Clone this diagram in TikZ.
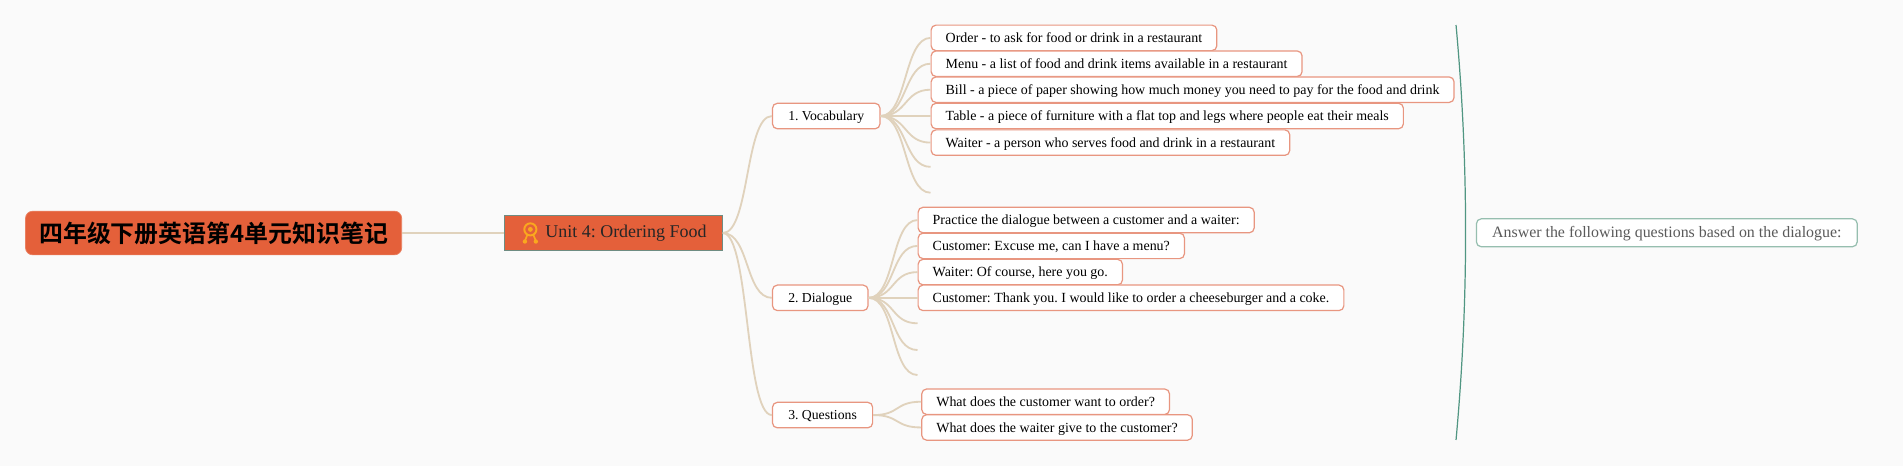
\documentclass[tikz,border=0pt]{standalone}
\usepackage{fontspec}
\setmainfont{Liberation Serif}
\newfontfamily\cjk{Noto Sans CJK SC}[BoldFont={Noto Sans CJK SC Bold}]
\frenchspacing
\definecolor{bgc}{RGB}{250,250,250}
\definecolor{rootc}{RGB}{228,96,58}
\definecolor{salmon}{RGB}{232,150,128}
\definecolor{linkc}{RGB}{224,210,188}
\definecolor{unitb}{RGB}{110,140,130}
\definecolor{gold}{RGB}{250,168,30}
\definecolor{tealb}{RGB}{150,190,175}
\definecolor{bracketc}{RGB}{80,150,130}
\definecolor{graytext}{RGB}{90,90,90}
\tikzset{
  rootbox/.style={fill=rootc, draw=rootc!80!white, line width=0.6pt, rounded corners=6pt,
    minimum width=310pt, minimum height=36pt, inner sep=0pt,
    font=\cjk\bfseries\fontsize{19.7}{22}\selectfont, text=black},
  unitbox/.style={fill=rootc, draw=unitb, line width=0.8pt, anchor=west,
    minimum height=29pt, inner xsep=13pt, inner ysep=0pt,
    font=\fontsize{14.8}{17}\selectfont, text=black!85, text height=10.5pt, text depth=3pt},
  lvltwo/.style={fill=white, draw=salmon, line width=1pt, rounded corners=4pt, anchor=west,
    minimum height=21pt, inner xsep=13pt, inner ysep=0pt,
    font=\fontsize{11.3}{13}\selectfont, text=black, text height=9pt, text depth=1.2pt},
  leafbox/.style={lvltwo, inner xsep=12pt, font=\fontsize{11.5}{13}\selectfont},
  answerbox/.style={fill=white, draw=tealb, line width=1pt, rounded corners=4pt, anchor=west,
    minimum height=23pt, inner xsep=13pt, inner ysep=0pt,
    font=\fontsize{13.1}{15}\selectfont, text=graytext, text height=9.8pt, text depth=2pt},
  link/.style={draw=linkc, line width=1.5pt},
  bracketline/.style={draw=bracketc, line width=1pt},
  icon/.style={draw=gold, line width=1.6pt, line cap=round}
}
\begin{document}
\begin{tikzpicture}[x=1pt,y=-1pt]
\fill[bgc] (0,0) rectangle (1568,384);
\useasboundingbox (0,0) rectangle (1568,384);

% root and unit
\node[rootbox] (root) at (176,192) {四年级下册英语第4单元知识笔记};
\node[unitbox] (unit) at (415,192) {\hspace*{21pt}Unit 4: Ordering Food};
\draw[link] (root.east) -- (unit.west);

% icon
\draw[icon] (437,189) circle (5pt);
\fill[gold] (437,189) circle (2pt);
\draw[icon, line width=1.4pt] (434.5,193.5) -- (432.5,198.5);
\draw[icon, line width=1.4pt] (439.5,193.5) -- (441.5,198.5);
\fill[gold] (432.5,199) circle (1.8pt);
\fill[gold] (441.5,199) circle (1.8pt);

% level two
\node[lvltwo] (voc) at (636,95.6) {1. Vocabulary};
\node[lvltwo] (dia) at (636,245.4) {2. Dialogue};
\node[lvltwo] (que) at (636,342) {3. Questions};
\foreach \n in {voc,dia,que}
  \draw[link] (unit.east) .. controls +(22,0) and +(-22,0) .. (\n.west);

% vocabulary leaves
\node[leafbox] (v1) at (766.7,31.2) {Order - to ask for food or drink in a restaurant};
\node[leafbox] (v2) at (766.7,52.5) {Menu - a list of food and drink items available in a restaurant};
\node[leafbox] (v3) at (766.7,73.9) {Bill - a piece of paper showing how much money you need to pay for the food and drink};
\node[leafbox] (v4) at (766.7,95.6) {Table - a piece of furniture with a flat top and legs where people eat their meals};
\node[leafbox] (v5) at (766.7,117.5) {Waiter - a person who serves food and drink in a restaurant};
\coordinate (v6) at (766.7,137.5);
\coordinate (v7) at (766.7,158.8);
\foreach \n in {v1,v2,v3,v4,v5}
  \draw[link] (voc.east) .. controls +(22,0) and +(-22,0) .. (\n.west);
\foreach \n in {v6,v7}
  \draw[link] (voc.east) .. controls +(22,0) and +(-22,0) .. (\n);

% dialogue leaves
\node[leafbox] (d1) at (756,181.3) {Practice the dialogue between a customer and a waiter:};
\node[leafbox] (d2) at (756,202.6) {Customer: Excuse me, can I have a menu?};
\node[leafbox] (d3) at (756,224.2) {Waiter: Of course, here you go.};
\node[leafbox] (d4) at (756,245.4) {Customer: Thank you. I would like to order a cheeseburger and a coke.};
\coordinate (d5) at (756,266.4);
\coordinate (d6) at (756,288.4);
\coordinate (d7) at (756,309);
\foreach \n in {d1,d2,d3,d4}
  \draw[link] (dia.east) .. controls +(22,0) and +(-22,0) .. (\n.west);
\foreach \n in {d5,d6,d7}
  \draw[link] (dia.east) .. controls +(22,0) and +(-22,0) .. (\n);

% question leaves
\node[leafbox] (q1) at (759,331) {What does the customer want to order?};
\node[leafbox] (q2) at (759,352.2) {What does the waiter give to the customer?};
\foreach \n in {q1,q2}
  \draw[link] (que.east) .. controls +(22,0) and +(-22,0) .. (\n.west);

% summary bracket and answer node
\coordinate (bt) at (1199.7,20.6);
\coordinate (bb) at (1199.7,362.5);
\draw[bracketline] (bt) .. controls (1210.2,134.6) and (1210.2,248.5) .. (bb);
\node[answerbox] (ans) at (1216,191.8) {Answer the following questions based on the dialogue:};
\end{tikzpicture}
\end{document}
